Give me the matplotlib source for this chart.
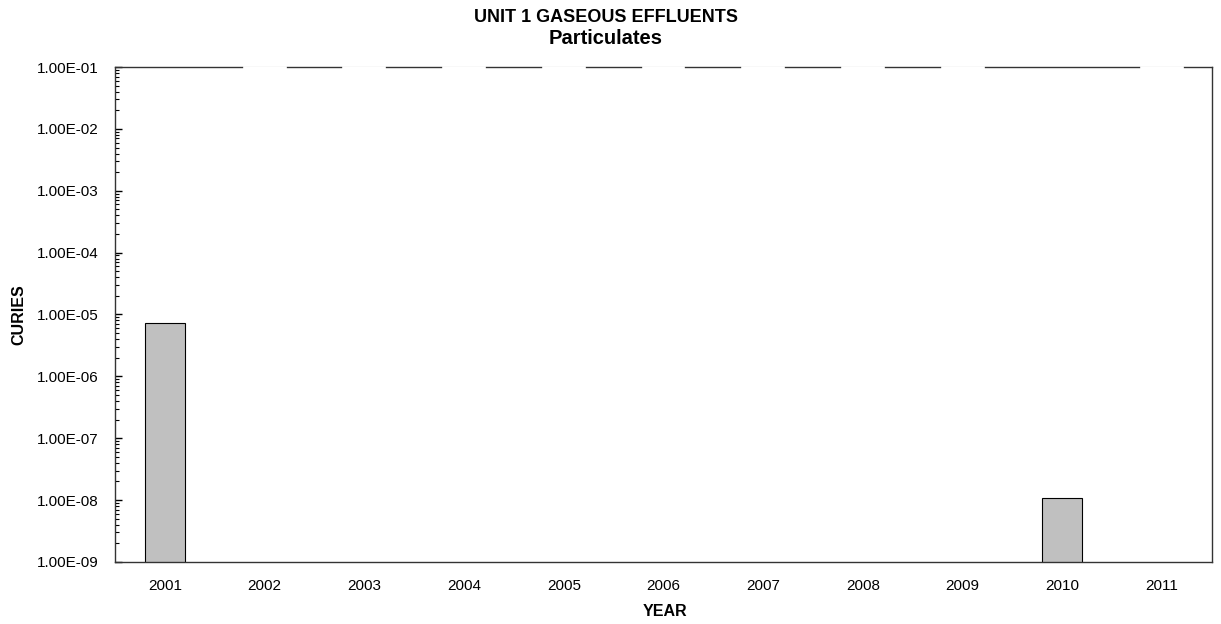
import numpy as np
import matplotlib.pyplot as plt
from matplotlib.ticker import LogLocator, FuncFormatter, NullFormatter

plt.rcParams['font.family'] = ['Liberation Sans', 'DejaVu Sans']

years = ['2001', '2002', '2003', '2004', '2005', '2006', '2007', '2008', '2009', '2010', '2011']
curies = [7.3e-6, 0, 0, 0, 0, 0, 0, 0, 0, 1.08e-8, 0]

ymin, ymax = 1e-9, 1e-1

fig = plt.figure(figsize=(12.21, 6.24), dpi=100)
ax = fig.add_axes([0.0942, 0.0994, 0.8984, 0.7932])

x = np.arange(len(years))
vals = np.array(curies)
nz = vals > 0

ax.bar(x[nz], vals[nz], width=0.4, color='#C0C0C0', edgecolor='black', linewidth=0.8, zorder=2)
# zero years: excel draws them as white blocks that break the top border
ax.bar(x[~nz], ymax - ymax / 2, bottom=ymax / 2, width=0.42, color='white',
       edgecolor='white', linewidth=1.2, zorder=3, clip_on=False)

ax.set_yscale('log')
ax.set_ylim(ymin, ymax)
ax.set_xlim(-0.5, len(years) - 0.5)
ax.set_xticks(x)
ax.set_xticklabels(years)

ax.yaxis.set_major_locator(LogLocator(base=10, numticks=20))
ax.yaxis.set_minor_locator(LogLocator(base=10, subs=np.arange(2, 10), numticks=20))
ax.yaxis.set_major_formatter(FuncFormatter(lambda v, p: f'{v:.2E}'))
ax.yaxis.set_minor_formatter(NullFormatter())

ax.tick_params(axis='y', which='major', direction='in', length=5, width=1, pad=12, labelsize=11)
ax.tick_params(axis='y', which='minor', direction='in', length=3, width=0.8)
ax.tick_params(axis='x', length=0, pad=12, labelsize=11)

for s in ax.spines.values():
    s.set_linewidth(1)
    s.set_color('#333333')

ax.set_xlabel('YEAR', fontsize=11.5, fontweight='bold')
ax.set_ylabel('CURIES', fontsize=11.5, fontweight='bold')
ax.xaxis.set_label_coords(0.501, -0.085)
ax.yaxis.set_label_coords(-0.081, 0.5)

fig.text(0.4963, 0.972, 'UNIT 1 GASEOUS EFFLUENTS', ha='center', va='center', fontsize=13, fontweight='bold')
fig.text(0.4963, 0.939, 'Particulates', ha='center', va='center', fontsize=14.5, fontweight='bold')

fig.savefig('out.png', dpi=100)
